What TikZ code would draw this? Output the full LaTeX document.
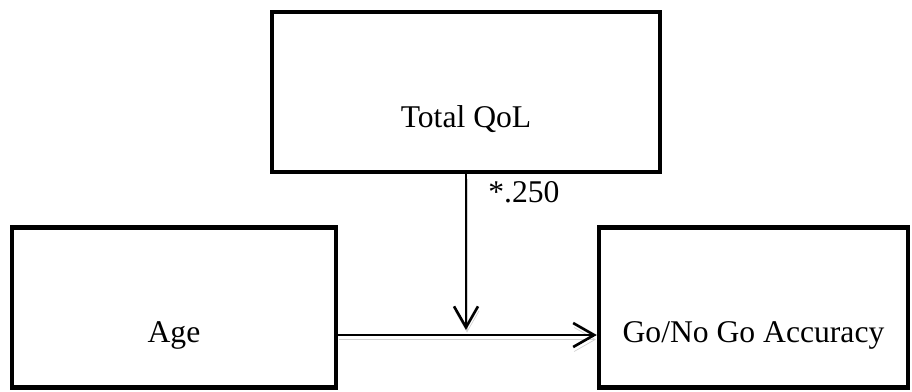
\documentclass[tikz,border=0pt]{standalone}
\usepackage{fontspec}
\setmainfont{Liberation Serif}
\usetikzlibrary{arrows.meta,positioning}

\begin{document}
\begin{tikzpicture}[
  font=\fontsize{18}{21}\selectfont,
  box/.style={draw,line width=2.5pt,minimum height=3.2cm,text height=1.5cm,text depth=0.1cm,inner sep=0pt,align=center},
  arr/.style={-{Straight Barb[length=0.42cm,width=0.48cm]},line width=1.5pt,
    preaction={draw=black!18,transform canvas={shift={(0.02,-0.09)}}}}
]
\useasboundingbox (0,0) rectangle (18.24,-7.82);

\node[box,minimum width=7.76cm] (qol) at (9.32,-1.84) {Total QoL};
\node[box,minimum width=6.48cm] (age) at (3.48,-6.15) {Age};
\node[box,minimum width=6.18cm] (acc) at (15.07,-6.15) {Go/No Go Accuracy};

\coordinate (hit) at (9.32,-6.6);

\draw[arr] ([yshift=-0.55cm]age.east) -- ([yshift=-0.55cm]acc.west);
\draw[arr] (qol.south) -- node[pos=0.18,anchor=base west,inner sep=0pt,xshift=0.42cm] (beta) {*.250} (hit);

\end{tikzpicture}
\end{document}
